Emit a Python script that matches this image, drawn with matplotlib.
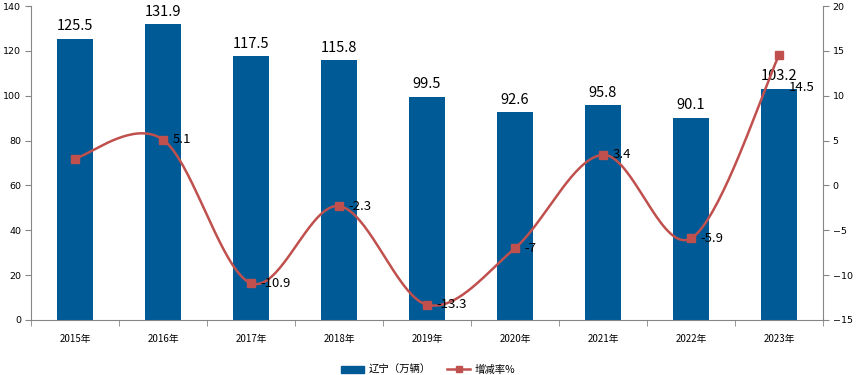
import numpy as np
import matplotlib
matplotlib.use('Agg')
import matplotlib.pyplot as plt
from matplotlib.lines import Line2D
from matplotlib.patches import Patch

plt.rcParams['font.family'] = ['Noto Sans CJK SC', 'DejaVu Sans']

years = ['2015年', '2016年', '2017年', '2018年', '2019年', '2020年', '2021年', '2022年', '2023年']
output = [125.5, 131.9, 117.5, 115.8, 99.5, 92.6, 95.8, 90.1, 103.2]
growth = [3.0, 5.1, -10.9, -2.3, -13.3, -7, 3.4, -5.9, 14.5]
growth_labels = ['', '5.1', '-10.9', '-2.3', '-13.3', '-7', '3.4', '-5.9', '14.5']

bar_color = '#005A96'
line_color = '#C0504D'
axis_color = '#868686'


def smooth(x, y, n=40):
    # Catmull-Rom style smoothing, similar to the spreadsheet "smoothed line"
    x = np.asarray(x, float)
    y = np.asarray(y, float)
    px = np.concatenate([[x[0]], x, [x[-1]]])
    py = np.concatenate([[y[0]], y, [y[-1]]])
    xs, ys = [], []
    for i in range(1, len(px) - 2):
        p0, p1, p2, p3 = [np.array([px[j], py[j]]) for j in (i - 1, i, i + 1, i + 2)]
        c1 = p1 + (p2 - p0) / 6
        c2 = p2 - (p3 - p1) / 6
        t = np.linspace(0, 1, n)[:, None]
        pts = ((1 - t) ** 3) * p1 + 3 * ((1 - t) ** 2) * t * c1 + 3 * (1 - t) * t ** 2 * c2 + t ** 3 * p2
        xs.append(pts[:, 0])
        ys.append(pts[:, 1])
    return np.concatenate(xs), np.concatenate(ys)


fig = plt.figure(figsize=(8.56, 3.75), dpi=100)
ax = fig.add_axes([0.0362, 0.1467, 0.9252, 0.8373])
ax2 = ax.twinx()

x = np.arange(len(years))
ax.bar(x, output, width=0.41, color=bar_color, zorder=2)
for xi, v in zip(x, output):
    ax.annotate(f'{v}', (xi, v), xytext=(0, 4), textcoords='offset points',
                ha='center', va='bottom', fontsize=10.5, color='black')

ax.set_xlim(-0.5, len(years) - 0.5)
ax.set_ylim(0, 140)
ax.set_yticks(range(0, 141, 20))
ax2.set_ylim(-15, 20)
ax2.set_yticks(range(-15, 21, 5))

sx, sy = smooth(x, growth)
ax2.plot(sx, sy, color=line_color, lw=1.8, zorder=3)
ax2.plot(x, growth, 's', color=line_color, ms=6, zorder=4)
for xi, v, lab in zip(x, growth, growth_labels):
    if not lab:
        continue
    if xi == len(years) - 1:
        ax2.annotate(lab, (xi, v), xytext=(7, -28), textcoords='offset points',
                     ha='left', va='bottom', fontsize=9.5)
    else:
        ax2.annotate(lab, (xi, v), xytext=(7, 0), textcoords='offset points',
                     ha='left', va='center', fontsize=9.5)

ax.set_xticks(x)
ax.set_xticklabels(years, fontsize=7)
ax.set_xticks(np.arange(-0.5, len(years)), minor=True)
ax.tick_params(axis='x', which='major', length=0, pad=10)
ax.tick_params(axis='x', which='minor', length=4, color=axis_color, direction='out')
for a in (ax, ax2):
    a.tick_params(axis='y', labelsize=6.8, length=4, color=axis_color, pad=3)
    for lbl in a.get_yticklabels():
        lbl.set_family('DejaVu Sans')
    a.spines['top'].set_visible(False)
    for s in ('left', 'right', 'bottom'):
        a.spines[s].set_color(axis_color)
ax.spines['right'].set_visible(False)
ax2.spines['left'].set_visible(False)
ax2.spines['bottom'].set_visible(False)

handles = [Patch(color=bar_color, label='辽宁（万辆）'),
           Line2D([0], [0], color=line_color, lw=1.8, marker='s', ms=5, label='增减率%')]
fig.legend(handles=handles, loc='lower center', ncol=2, frameon=False, fontsize=7.5,
           bbox_to_anchor=(0.5, -0.025), handlelength=2.2, handletextpad=0.4,
           columnspacing=1.6)

fig.savefig('out.png', dpi=100)
